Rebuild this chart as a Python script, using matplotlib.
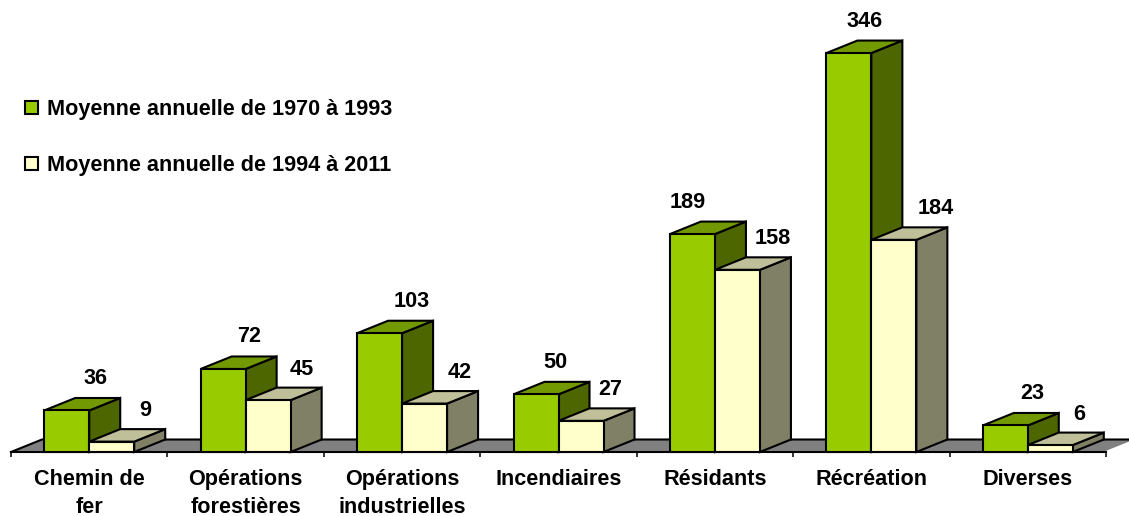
import numpy as np
import matplotlib
matplotlib.use('Agg')
import matplotlib.pyplot as plt
from matplotlib.patches import Polygon, Rectangle

categories = ['Chemin de\nfer', 'Opérations\nforestières', 'Opérations\nindustrielles',
              'Incendiaires', 'Résidants', 'Récréation', 'Diverses']
values_old = [36, 72, 103, 50, 189, 346, 23]
values_new = [9, 45, 42, 27, 158, 184, 6]
legend_labels = ['Moyenne annuelle de 1970 à 1993', 'Moyenne annuelle de 1994 à 2011']

# hand-tuned x shift of the value labels, in pixels from the bar centre
label_dx_old = [29, 26, 32, 19, -5, 16, 27]
label_dx_new = [34, 34, 35, 29, 35, 42, 29]

plt.rcParams['font.family'] = ['Liberation Sans', 'DejaVu Sans']

W, H = 1129, 516
fig = plt.figure(figsize=(W / 100, H / 100), dpi=100, facecolor='white')

# axes spans the tick range of the x axis and reaches up to the top of the image
left, right, base = 11, 1106, 452
px_per_unit = 1.153
ax = fig.add_axes([left / W, (H - base) / H, (right - left) / W, base / H])
ax.set_xlim(0, 7)
ax.set_ylim(0, base / px_per_unit)
ax.patch.set_alpha(0)

px_x = 7 / (right - left)   # one pixel in x data units
px_y = 1 / px_per_unit      # one pixel in y data units
dx = 31 * px_x
dy = 12.5 * px_y
bar_w = 45 * px_x

lw = 1.5
EDGE = 'black'
FS = 15.6


def bar3d(x, h, front, side, top, z):
    # one box: side and top faces sit behind the front face
    ax.add_patch(Polygon([(x + bar_w, 0), (x + bar_w + dx, dy), (x + bar_w + dx, h + dy), (x + bar_w, h)],
                         facecolor=side, edgecolor=EDGE, linewidth=lw, zorder=z, clip_on=False))
    ax.add_patch(Polygon([(x, h), (x + dx, h + dy), (x + bar_w + dx, h + dy), (x + bar_w, h)],
                         facecolor=top, edgecolor=EDGE, linewidth=lw, zorder=z, clip_on=False))
    ax.bar(x, h, width=bar_w, align='edge', color=front, edgecolor=EDGE, linewidth=lw,
           zorder=z + 0.5, clip_on=False)


# grey floor
ax.add_patch(Polygon([(0, 0), (dx, dy), (7 + dx, dy), (7, 0)], facecolor='#808080',
                     edgecolor='none', zorder=1, clip_on=False))
ax.plot([0, dx, 7 + dx], [0, dy, dy], color=EDGE, lw=lw, zorder=1.5, clip_on=False)
ax.plot([7, 7 + dx], [0, dy], color='white', lw=lw, zorder=1.5, clip_on=False)

centers = np.arange(len(categories)) + 0.5
for i, c in enumerate(centers):
    bar3d(c - bar_w, values_old[i], '#99CC00', '#4D6600', '#739900', 2 + i)
    bar3d(c, values_new[i], '#FFFFCC', '#808066', '#BFBF99', 2.6 + i)
    ax.annotate(str(values_old[i]), (c - bar_w / 2, values_old[i]), xytext=(label_dx_old[i] * 0.72, 32 * 0.72),
                textcoords='offset points', ha='center', va='center', fontsize=FS, fontweight='bold', zorder=20)
    ax.annotate(str(values_new[i]), (c + bar_w / 2, values_new[i]), xytext=(label_dx_new[i] * 0.72, 31 * 0.72),
                textcoords='offset points', ha='center', va='center', fontsize=FS, fontweight='bold', zorder=20)

# x axis: ticks between groups, labels on the group centres
for s in ['top', 'left', 'right']:
    ax.spines[s].set_visible(False)
ax.spines['bottom'].set_linewidth(lw)
ax.spines['bottom'].set_zorder(1.6)
ax.set_yticks([])
ax.set_xticks(np.arange(8))
ax.set_xticklabels([])
ax.tick_params(axis='x', which='major', length=3.5, width=1.1)
ax.set_xticks(centers, minor=True)
ax.set_xticklabels(categories, minor=True, fontsize=FS, fontweight='bold', linespacing=1.4)
ax.tick_params(axis='x', which='minor', length=0, pad=12.5)

# legend, placed by hand as in the original
for y, label, color in zip([108, 164], legend_labels, ['#99CC00', '#FFFFCC']):
    fig.add_artist(Rectangle((25.5 / W, 1 - (y + 6) / H), 12.5 / W, 12.5 / H, transform=fig.transFigure,
                             facecolor=color, edgecolor=EDGE, linewidth=1.5))
    fig.text(47 / W, 1 - (y + 2) / H, label, fontsize=FS, fontweight='bold', va='center', ha='left')

fig.savefig('out.png', dpi=100, facecolor='white')
